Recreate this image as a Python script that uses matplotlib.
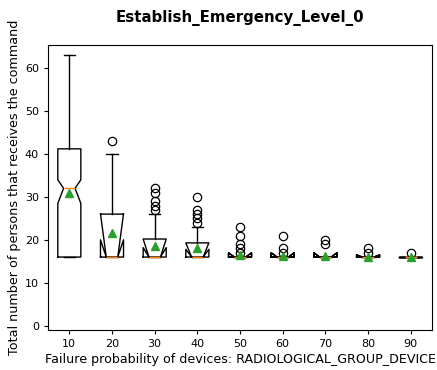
import matplotlib
matplotlib.use("Agg")
import matplotlib.pyplot as plt

# failure probability (%) of the radiological group devices
positions = [10, 20, 30, 40, 50, 60, 70, 80, 90]

# box statistics
medians = [32, 16, 16, 16, 16, 16, 16, 16, 16]
q1s = [16, 16, 16, 16, 16, 16, 16, 16, 16]
q3s = [41.2, 26, 20.2, 19.3, 16, 16, 16, 16, 16]
whis_lo = [16, 16, 16, 16, 16, 16, 16, 16, 16]
whis_hi = [63, 40, 26, 23, 16, 16, 16, 16, 16]
means = [31, 21.6, 18.6, 18, 16.4, 16.3, 16.2, 16.1, 16.05]
ci_lo = [28.5, 20, 18.2, 17.8, 17, 17, 17, 16.5, 16]
ci_hi = [34, 26.1, 20.2, 19.3, 17, 17, 17, 16.5, 16]
fliers = [[], [43], [27, 28, 29, 31, 32], [24, 25, 26, 27, 30],
          [17, 18, 19, 21, 23], [17, 18, 21], [19, 20], [17, 18], [17]]
tick_labels = ['10', '20', '30', '40', '50', '60', '70', '80', '90']


def build_stats():
    stats = []
    for i in range(len(positions)):
        stats.append({
            'med': medians[i], 'q1': q1s[i], 'q3': q3s[i],
            'whislo': whis_lo[i], 'whishi': whis_hi[i],
            'mean': means[i], 'cilo': ci_lo[i], 'cihi': ci_hi[i],
            'fliers': fliers[i],
        })
    return stats


fig = plt.figure(figsize=(4.37, 3.70), dpi=100)
ax = fig.add_axes([0.1098, 0.108, 0.879, 0.770])

ax.bxp(build_stats(), positions=positions, widths=5.4,
       shownotches=True, showmeans=True,
       boxprops=dict(linewidth=1.0),
       whiskerprops=dict(linewidth=1.0),
       capprops=dict(linewidth=1.0),
       medianprops=dict(color='#ff7f0e', linewidth=1.0),
       meanprops=dict(marker='^', markerfacecolor='#2ca02c',
                      markeredgecolor='#2ca02c', markersize=5.5),
       flierprops=dict(marker='o', markerfacecolor='none',
                       markeredgecolor='black', markersize=6,
                       markeredgewidth=0.9))

ax.set_xlim(5, 95)
ax.set_ylim(-1, 65.35)
ax.set_xticks(positions)
ax.set_xticklabels(tick_labels)
ax.set_yticks([0, 10, 20, 30, 40, 50, 60])
ax.tick_params(labelsize=8, length=3)

ax.set_title("Establish_Emergency_Level_0", fontsize=10.8, fontweight='bold', pad=17)
ax.set_xlabel("Failure probability of devices: RADIOLOGICAL_GROUP_DEVICE", fontsize=9.1, labelpad=2.5)
ax.set_ylabel("Total number of persons that receives the command", fontsize=9.2, labelpad=3)

fig.savefig("out.png", dpi=100)
